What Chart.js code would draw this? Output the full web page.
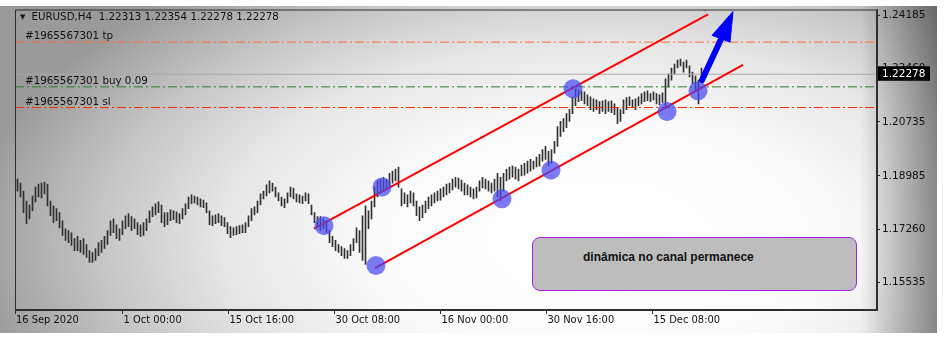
<!DOCTYPE html>
<html>
<head>
<meta charset="utf-8">
<script src="https://cdn.jsdelivr.net/npm/chart.js@4.4.1/dist/chart.umd.min.js"></script>
<style>
  html, body { margin: 0; padding: 0; background: #fff; }
  #wrap { position: relative; width: 950px; height: 347px; overflow: hidden; }
  #panel {
    position: absolute; left: 0; top: 6px; width: 937px; height: 327px;
    background:
      linear-gradient(to right, rgba(0,0,0,0) 0, rgba(0,0,0,0) 860px, rgba(0,0,0,0.12) 880px, rgba(0,0,0,0.42) 937px),
      radial-gradient(ellipse 630px 330px at 600px 234px, #ffffff 0%, #fbfbfb 35%, #e6e6e6 60%, #c4c4c4 80%, #9a9a9a 100%);
  }
  canvas { position: absolute; left: 0; top: 0; }
  .lbl { position: absolute; font-family: 'DejaVu Sans', sans-serif; font-size: 10.3px; line-height: 12px; color: #111; white-space: pre; }
  #head .tri { font-size: 7px; vertical-align: 1px; margin-right: 6px; }
  #note {
    position: absolute; left: 532px; top: 237px; width: 323px; height: 52px;
    background: #bdbdbd; border: 1.5px solid #a020f0; border-radius: 8px;
  }
  #note span { position: absolute; left: 50px; top: 12px; font: bold 12px 'Liberation Sans', Arial, sans-serif; color: #111; }
</style>
</head>
<body>
<div id="wrap">
  <div id="panel"></div>
  <canvas id="chart" width="950" height="347"></canvas>
  <div id="head" class="lbl" style="left:20px; top:10px;"></div>
  <div id="note"><span>dinâmica no canal permanece</span></div>
</div>
<script>
// EURUSD H4 bars, oldest first (about two H4 bars per entry)
const highs = [
  1.1888, 1.1875, 1.1849, 1.1817, 1.1804, 1.1833, 1.1862, 1.1872, 1.1875, 1.1878,
  1.1872, 1.1817, 1.1801, 1.1792, 1.1779, 1.1753, 1.1727, 1.1721, 1.1714, 1.1695,
  1.1702, 1.1689, 1.1695, 1.1676, 1.1656, 1.1650, 1.1663, 1.1682, 1.1689, 1.1702,
  1.1721, 1.1753, 1.1759, 1.1740, 1.1727, 1.1753, 1.1769, 1.1776, 1.1766, 1.1759,
  1.1747, 1.1740, 1.1747, 1.1759, 1.1785, 1.1798, 1.1808, 1.1814, 1.1804, 1.1779,
  1.1779, 1.1788, 1.1785, 1.1782, 1.1776, 1.1792, 1.1808, 1.1830, 1.1837, 1.1833,
  1.1830, 1.1824, 1.1820, 1.1811, 1.1785, 1.1769, 1.1772, 1.1776, 1.1769, 1.1763,
  1.1747, 1.1734, 1.1730, 1.1734, 1.1737, 1.1740, 1.1747, 1.1769, 1.1792, 1.1798,
  1.1817, 1.1840, 1.1849, 1.1869, 1.1882, 1.1875, 1.1862, 1.1843, 1.1830, 1.1824,
  1.1843, 1.1862, 1.1859, 1.1840, 1.1837, 1.1833, 1.1843, 1.1840, 1.1804, 1.1779,
  1.1766, 1.1766, 1.1759, 1.1753, 1.1721, 1.1702, 1.1689, 1.1676, 1.1669, 1.1663,
  1.1656, 1.1676, 1.1695, 1.1730, 1.1721, 1.1769, 1.1801, 1.1785, 1.1817, 1.1862,
  1.1882, 1.1888, 1.1894, 1.1888, 1.1907, 1.1914, 1.1920, 1.1927, 1.1856, 1.1843,
  1.1837, 1.1849, 1.1843, 1.1817, 1.1798, 1.1804, 1.1817, 1.1830, 1.1837, 1.1843,
  1.1849, 1.1856, 1.1862, 1.1872, 1.1875, 1.1888, 1.1894, 1.1891, 1.1885, 1.1875,
  1.1869, 1.1862, 1.1856, 1.1862, 1.1882, 1.1894, 1.1888, 1.1882, 1.1875, 1.1888,
  1.1907, 1.1894, 1.1907, 1.1920, 1.1927, 1.1930, 1.1927, 1.1920, 1.1933, 1.1939,
  1.1946, 1.1952, 1.1946, 1.1959, 1.1968, 1.1984, 1.1994, 1.1978, 1.1984, 1.2010,
  1.2058, 1.2075, 1.2084, 1.2100, 1.2113, 1.2155, 1.2181, 1.2177, 1.2174, 1.2171,
  1.2161, 1.2155, 1.2148, 1.2145, 1.2139, 1.2142, 1.2145, 1.2139, 1.2142, 1.2132,
  1.2120, 1.2113, 1.2145, 1.2152, 1.2155, 1.2145, 1.2148, 1.2155, 1.2165, 1.2171,
  1.2174, 1.2165, 1.2171, 1.2165, 1.2161, 1.2168, 1.2213, 1.2229, 1.2248, 1.2261,
  1.2274, 1.2277, 1.2267, 1.2274, 1.2255, 1.2235, 1.2222, 1.2209, 1.2248, 1.22354
];
const lows = [
  1.1849, 1.1830, 1.1779, 1.1743, 1.1759, 1.1785, 1.1814, 1.1830, 1.1827, 1.1840,
  1.1801, 1.1769, 1.1747, 1.1753, 1.1730, 1.1705, 1.1689, 1.1682, 1.1673, 1.1656,
  1.1656, 1.1650, 1.1644, 1.1634, 1.1618, 1.1618, 1.1624, 1.1640, 1.1650, 1.1663,
  1.1676, 1.1705, 1.1714, 1.1695, 1.1689, 1.1708, 1.1727, 1.1734, 1.1721, 1.1727,
  1.1708, 1.1702, 1.1705, 1.1721, 1.1747, 1.1766, 1.1772, 1.1779, 1.1747, 1.1734,
  1.1740, 1.1753, 1.1756, 1.1747, 1.1743, 1.1759, 1.1772, 1.1792, 1.1808, 1.1811,
  1.1804, 1.1798, 1.1795, 1.1779, 1.1740, 1.1737, 1.1743, 1.1747, 1.1737, 1.1734,
  1.1711, 1.1698, 1.1705, 1.1708, 1.1711, 1.1714, 1.1714, 1.1734, 1.1753, 1.1772,
  1.1779, 1.1804, 1.1824, 1.1833, 1.1843, 1.1849, 1.1830, 1.1817, 1.1801, 1.1795,
  1.1811, 1.1830, 1.1824, 1.1814, 1.1811, 1.1808, 1.1817, 1.1808, 1.1772, 1.1747,
  1.1734, 1.1721, 1.1727, 1.1714, 1.1682, 1.1669, 1.1656, 1.1650, 1.1640, 1.1631,
  1.1631, 1.1640, 1.1656, 1.1682, 1.1650, 1.1624, 1.1611, 1.1727, 1.1759, 1.1798,
  1.1830, 1.1843, 1.1849, 1.1856, 1.1862, 1.1875, 1.1882, 1.1862, 1.1801, 1.1808,
  1.1798, 1.1811, 1.1801, 1.1769, 1.1753, 1.1763, 1.1779, 1.1792, 1.1801, 1.1811,
  1.1817, 1.1820, 1.1830, 1.1837, 1.1843, 1.1853, 1.1862, 1.1856, 1.1849, 1.1837,
  1.1837, 1.1830, 1.1824, 1.1827, 1.1849, 1.1859, 1.1856, 1.1849, 1.1843, 1.1849,
  1.1830, 1.1817, 1.1849, 1.1882, 1.1888, 1.1894, 1.1888, 1.1882, 1.1898, 1.1901,
  1.1907, 1.1914, 1.1920, 1.1927, 1.1930, 1.1946, 1.1952, 1.1930, 1.1939, 1.1972,
  1.1994, 1.2026, 1.2042, 1.2055, 1.2075, 1.2100, 1.2126, 1.2139, 1.2142, 1.2132,
  1.2126, 1.2113, 1.2107, 1.2113, 1.2100, 1.2107, 1.2100, 1.2107, 1.2103, 1.2097,
  1.2068, 1.2075, 1.2100, 1.2113, 1.2126, 1.2120, 1.2113, 1.2126, 1.2132, 1.2139,
  1.2142, 1.2139, 1.2145, 1.2132, 1.2129, 1.2136, 1.2116, 1.2187, 1.2209, 1.2229,
  1.2248, 1.2255, 1.2235, 1.2248, 1.2219, 1.2197, 1.2171, 1.2132, 1.2203, 1.22278
];

const lastQuote = [1.22313, 1.22354, 1.22278, 1.22278]; // O H L C of the last bar
const priceTicks = [1.15535, 1.17260, 1.18985, 1.20735, 1.22460, 1.24185];
const timeLabels = ['16 Sep 2020', '1 Oct 00:00', '15 Oct 16:00', '30 Oct 08:00', '16 Nov 00:00', '30 Nov 16:00', '15 Dec 08:00'];
const timeTickBars = [-0.83, 35, 70.33, 105.67, 141, 176.33, 211.67];

const orderNames = ['tp', 'buy 0.09', 'sl'];
const orderPrices = [1.2332, 1.2187, 1.2120];
const orderColors = ['#ff6a3a', '#2a7d2a', '#ff2a00'];

const channelUpper = [[98.83, 1.1727], [230.17, 1.2422]];
const channelLower = [[119.17, 1.1599], [241.83, 1.2258]];
const touchBars = [102.17, 121.5, 119.5, 161.5, 177.83, 185.17, 216.5, 226.83];
const touchPrices = [1.1737, 1.1862, 1.1608, 1.1824, 1.1917, 1.2181, 1.2107, 1.2174];
const arrowShaft = [[228.17, 1.2209], [234.5, 1.2341]];
const arrowHead = [[238.5, 1.2431], [231.5, 1.2354], [237.5, 1.2332], [238.5, 1.2431]];
const topMarker = [[229.17, 1.2451]];

const xMin = -0.8333;
const xMax = 286.5;
const yMin = 1.14635;
const yMax = 1.24378;

const pts = (arr) => arr.map(([x, y]) => ({ x, y }));
const bars = highs.map((h, i) => ({ x: i, y: [lows[i], h] }));

const orderSets = orderPrices.map((p, i) => ({
  type: 'line',
  data: [{ x: xMin, y: p }, { x: xMax, y: p }],
  borderColor: orderColors[i],
  borderWidth: 1,
  borderDash: [9, 3, 2, 3],
  pointRadius: 0,
  order: 9,
}));

const framePlugin = {
  id: 'frame',
  afterDraw(chart) {
    const { ctx, chartArea: a, scales } = chart;
    ctx.save();
    ctx.strokeStyle = '#2e2e2e';
    ctx.lineWidth = 1;
    ctx.strokeRect(a.left + 0.5, a.top + 0.5, a.right - a.left - 1, a.bottom - a.top - 1);
    // current price box on the price scale
    const close = lastQuote[3];
    const py = scales.y.getPixelForValue(close);
    ctx.fillStyle = '#000';
    ctx.fillRect(a.right + 1, py - 8, 52, 14.5);
    ctx.fillStyle = '#fff';
    ctx.font = '10.5px "DejaVu Sans", sans-serif';
    ctx.textBaseline = 'middle';
    ctx.fillText(close.toFixed(5), a.right + 5, py);
    ctx.restore();
  },
};

const chart = new Chart(document.getElementById('chart'), {
  type: 'bar',
  data: {
    datasets: [
      {
        data: bars,
        backgroundColor: '#303030',
        barThickness: 1,
        grouped: false,
        order: 10,
      },
      ...orderSets,
      {
        type: 'line',
        data: [{ x: xMin, y: lastQuote[3] }, { x: xMax, y: lastQuote[3] }],
        borderColor: '#a9a9a9',
        borderWidth: 1,
        pointRadius: 0,
        order: 9,
      },
      {
        type: 'line',
        data: pts(channelUpper),
        borderColor: '#ff0000',
        borderWidth: 2,
        pointRadius: 0,
        order: 5,
      },
      {
        type: 'line',
        data: pts(channelLower),
        borderColor: '#ff0000',
        borderWidth: 2,
        pointRadius: 0,
        order: 5,
      },
      {
        type: 'line',
        data: touchBars.map((x, i) => ({ x, y: touchPrices[i] })),
        showLine: false,
        pointRadius: 9.5,
        pointBorderWidth: 0,
        pointBackgroundColor: 'rgba(72, 72, 242, 0.72)',
        order: 3,
      },
      {
        type: 'line',
        data: pts(arrowShaft),
        borderColor: '#0000ff',
        borderWidth: 6,
        borderCapStyle: 'round',
        pointRadius: 0,
        order: 2,
      },
      {
        type: 'line',
        data: pts(arrowHead),
        borderColor: '#0000ff',
        backgroundColor: '#0000ff',
        borderWidth: 1,
        fill: 'shape',
        pointRadius: 0,
        order: 1,
      },
      {
        type: 'line',
        data: pts(topMarker),
        showLine: false,
        pointStyle: 'triangle',
        pointRotation: 180,
        pointRadius: 7,
        pointBorderWidth: 0,
        pointBackgroundColor: '#a6a6a6',
        order: 1,
      },
    ],
  },
  options: {
    responsive: false,
    animation: false,
    layout: { padding: { left: 15, top: 7, right: 13, bottom: 14 } },
    plugins: { legend: { display: false }, tooltip: { enabled: false } },
    scales: {
      x: {
        type: 'linear',
        min: xMin,
        max: xMax,
        offset: false,
        afterBuildTicks: (s) => { s.ticks = timeTickBars.map((v) => ({ value: v })); },
        afterFit: (s) => { s.height = 23; s.paddingLeft = 0; s.paddingRight = 0; },
        ticks: {
          autoSkip: false,
          maxRotation: 0,
          align: 'start',
          labelOffset: 1,
          padding: 0,
          color: '#111',
          font: { family: 'DejaVu Sans Condensed', size: 11 },
          callback: (v, i) => timeLabels[i],
        },
        grid: { drawOnChartArea: false, tickLength: 4, color: '#2e2e2e', offset: false },
        border: { color: '#2e2e2e' },
      },
      y: {
        position: 'right',
        min: yMin,
        max: yMax,
        afterBuildTicks: (s) => { s.ticks = priceTicks.map((v) => ({ value: v })); },
        afterFit: (s) => { s.width = 60; s.paddingTop = 0; s.paddingBottom = 0; },
        ticks: {
          padding: 2,
          color: '#111',
          font: { family: 'DejaVu Sans', size: 10.5 },
          callback: (v) => v.toFixed(5),
        },
        grid: { drawOnChartArea: false, tickLength: 3, color: '#2e2e2e' },
        border: { color: '#2e2e2e' },
      },
    },
  },
  plugins: [framePlugin],
});

// header line and order labels
const head = document.getElementById('head');
head.innerHTML = '<span class="tri">&#9660;</span>EURUSD,H4  ' + lastQuote.map((v) => v.toFixed(5)).join(' ');

const wrap = document.getElementById('wrap');
orderNames.forEach((name, i) => {
  const div = document.createElement('div');
  div.className = 'lbl';
  div.style.left = '25px';
  div.style.top = (chart.scales.y.getPixelForValue(orderPrices[i]) - 13) + 'px';
  div.textContent = '#1965567301 ' + name;
  wrap.appendChild(div);
});
</script>
</body>
</html>
